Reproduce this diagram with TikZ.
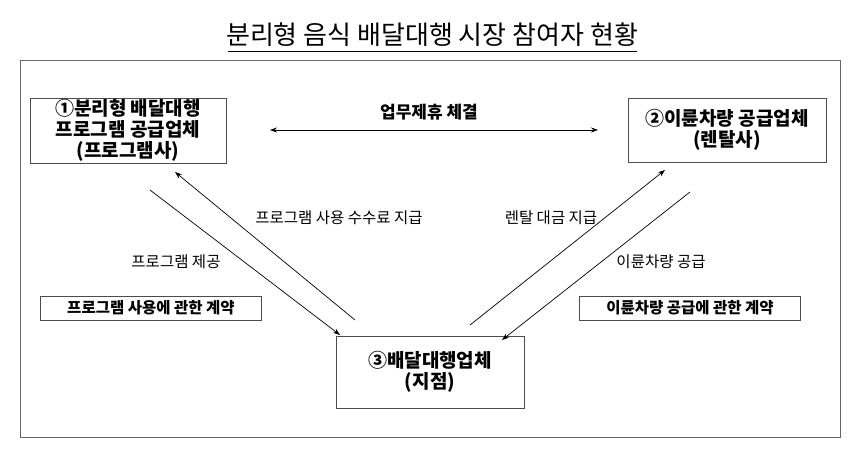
\documentclass[tikz,border=0pt]{standalone}
\usepackage{fontspec}
\setmainfont{Noto Sans CJK KR}
\usetikzlibrary{arrows.meta}
\begin{document}
\begin{tikzpicture}[x=1pt,y=-1pt,
  bx/.style={draw=black!70,line width=0.8pt,inner sep=0pt},
  lbl/.style={font=\fontsize{15.5}{18}\selectfont},
  bt/.style={font=\bfseries\fontsize{19}{21}\selectfont,align=center},
  ct/.style={draw=black!70,line width=0.8pt,font=\bfseries\fontsize{15.5}{18}\selectfont,minimum height=24pt,minimum width=221pt,inner ysep=1pt,inner xsep=5pt},
  ar/.style={-{Stealth[length=7pt,width=5pt]},line width=0.7pt}]
\useasboundingbox (0,0) rectangle (860,454);
\node[font=\fontsize{26}{30}\selectfont] (title) at (432,35) {분리형 음식 배달대행 시장 참여자 현황};
\draw[line width=0.8pt] (228,51) -- (637,51);
\draw[black!60,line width=0.8pt] (20,60) rectangle (840,437);
\draw[bx] (30,98) rectangle (226,163);
\node[bt] (b1) at (128,130) {①분리형 배달대행\\프로그램 공급업체\\(프로그램사)};
\draw[bx] (628,98) rectangle (826,162);
\node[bt] (b2) at (727,130) {②이륜차량 공급업체\\(렌탈사)};
\draw[bx] (336,336) rectangle (524,408);
\node[bt] (b3) at (430,372) {③배달대행업체\\(지점)};
\coordinate (l1) at (270,130); \coordinate (r1) at (598,130);
\draw[{Stealth[length=7pt,width=5pt]}-{Stealth[length=7pt,width=5pt]},line width=0.7pt] (l1) -- (r1);
\node[font=\bfseries\fontsize{17}{20}\selectfont] (t1) at (429,112) {업무제휴 체결};
\coordinate (a1) at (150,190); \coordinate (a2) at (340,335);
\coordinate (a3) at (355,320); \coordinate (a4) at (175,172);
\draw[ar] (a1) -- (a2); \draw[ar] (a3) -- (a4);
\coordinate (c1) at (470,325); \coordinate (c2) at (665,170);
\coordinate (c3) at (690,192); \coordinate (c4) at (502,340);
\draw[ar] (c1) -- (c2); \draw[ar] (c3) -- (c4);
\node[lbl] (p1) at (339,218) {프로그램 사용 수수료 지급};
\node[lbl] (p2) at (176,262) {프로그램 제공};
\node[lbl] (p3) at (551,218) {렌탈 대금 지급};
\node[lbl] (p4) at (661,262) {이륜차량 공급};
\node[ct] (k1) at (151,308) {프로그램 사용에 관한 계약};
\node[ct] (k2) at (690,308) {이륜차량 공급에 관한 계약};
\end{tikzpicture}
\end{document}
